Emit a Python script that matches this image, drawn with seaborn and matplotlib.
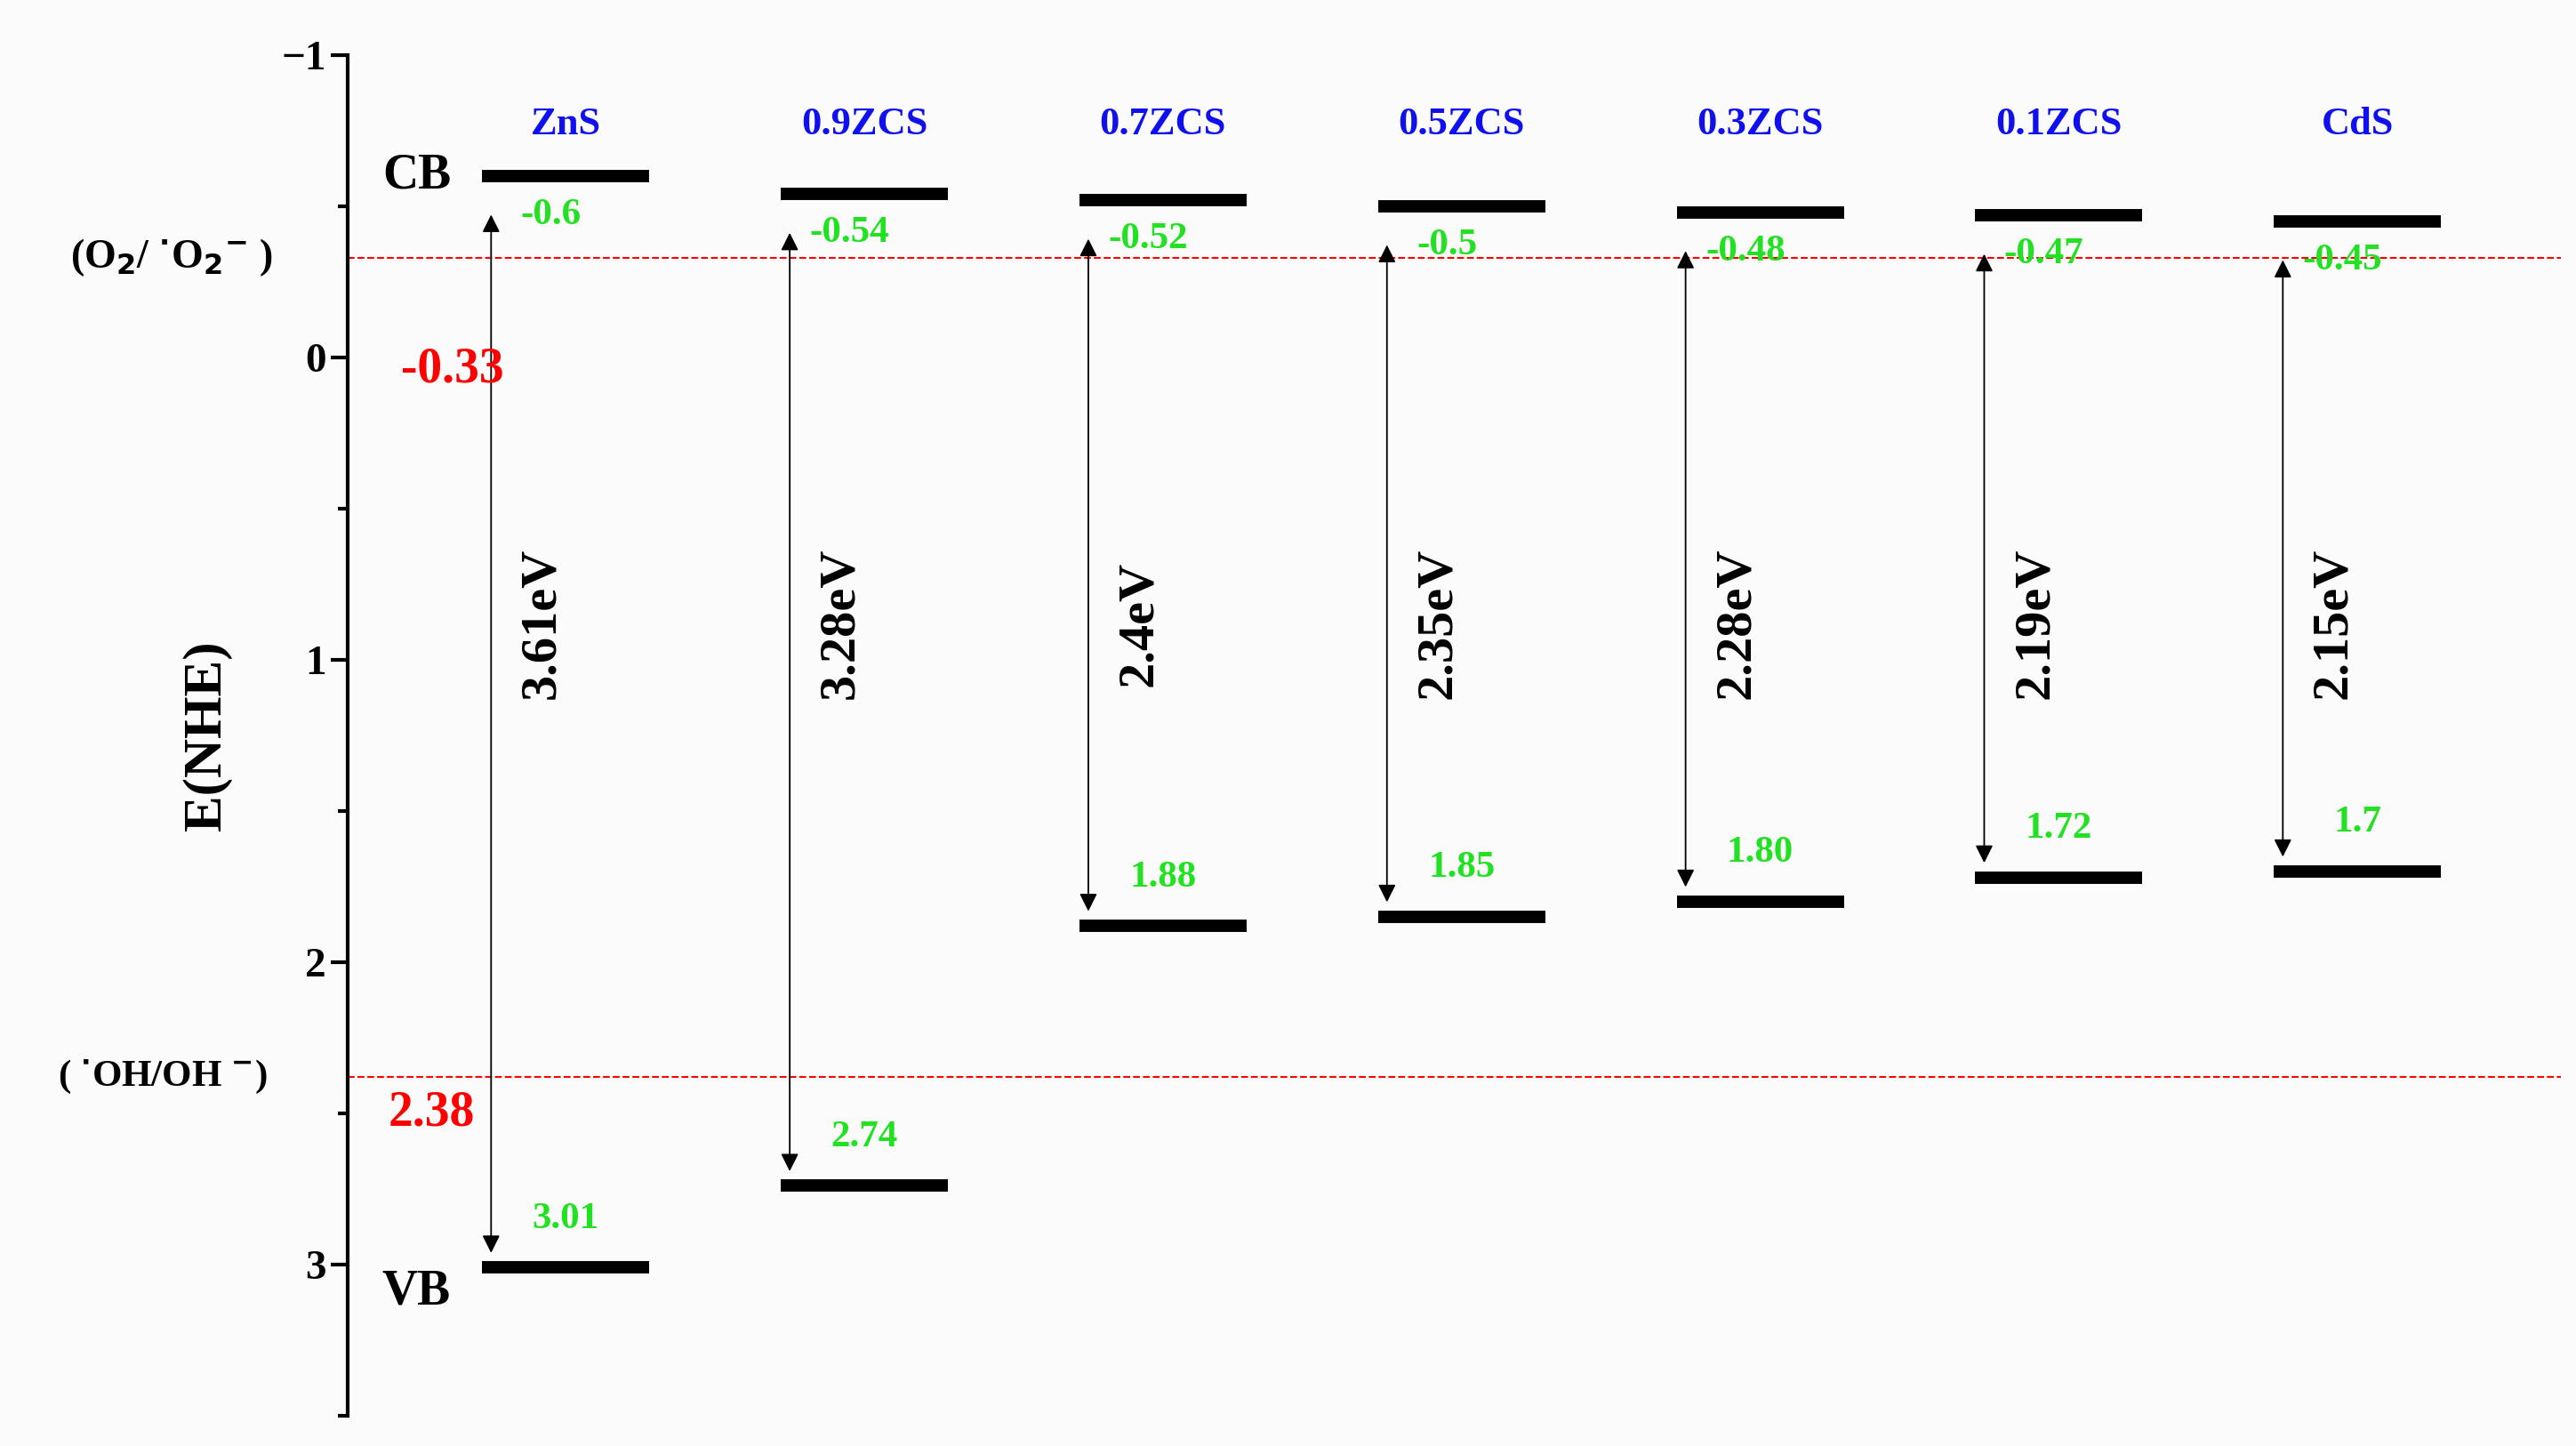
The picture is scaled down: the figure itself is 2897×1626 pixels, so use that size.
import numpy as np
import matplotlib.pyplot as plt
import seaborn as sns

# band positions vs NHE
samples = ['ZnS', '0.9ZCS', '0.7ZCS', '0.5ZCS', '0.3ZCS', '0.1ZCS', 'CdS']
cb = [-0.6, -0.54, -0.52, -0.5, -0.48, -0.47, -0.45]
vb = [3.01, 2.74, 1.88, 1.85, 1.80, 1.72, 1.7]
gap_labels = ['3.61eV', '3.28eV', '2.4eV', '2.35eV', '2.28eV', '2.19eV', '2.15eV']
cb_labels = ['-0.6', '-0.54', '-0.52', '-0.5', '-0.48', '-0.47', '-0.45']
vb_labels = ['3.01', '2.74', '1.88', '1.85', '1.80', '1.72', '1.7']
o2_level = -0.33
oh_level = 2.38

sns.set_style('ticks')
plt.rcParams['font.family'] = ['Liberation Serif', 'DejaVu Serif']
plt.rcParams['font.weight'] = 'bold'
plt.rcParams['text.color'] = 'black'
plt.rcParams['axes.labelcolor'] = 'black'
plt.rcParams['ytick.color'] = 'black'
plt.rcParams['axes.edgecolor'] = 'black'

fig = plt.figure(figsize=(28.97, 16.26), dpi=100)
fig.patch.set_facecolor('#fbfbfb')
ax = fig.add_axes([0.135, 0.021, 0.859, 0.941])
ax.set_facecolor('#fbfbfb')

x = np.arange(len(samples))
hw = 0.28
ax.hlines(cb, x - hw, x + hw, color='black', lw=10)
ax.hlines(vb, x - hw, x + hw, color='black', lw=10)

for i in x:
    ax.annotate('', xy=(i - 0.25, vb[i] - 0.04), xytext=(i - 0.25, cb[i] + 0.12),
                arrowprops=dict(arrowstyle='<|-|>', color='black', lw=1.3,
                                mutation_scale=30))
    ax.text(i - 0.08, 0.88, gap_labels[i], rotation=90, ha='center', va='center',
            fontsize=42, fontweight='bold')
    ax.text(i - 0.05, cb[i] + 0.13, cb_labels[i], color='#22e022', ha='center',
            va='center', fontsize=31, fontweight='bold')
    ax.text(i, vb[i] - 0.16, vb_labels[i], color='#22e022', ha='center',
            va='center', fontsize=31, fontweight='bold')
    ax.text(i, -0.77, samples[i], color='#1010ee', ha='center', va='center',
            fontsize=32, fontweight='bold')

ax.axhline(o2_level, color='red', ls='--', lw=1.5)
ax.axhline(oh_level, color='red', ls='--', lw=1.5)

ax.text(-0.5, -0.6, 'CB', ha='center', va='center', fontsize=40, fontweight='bold')
ax.text(-0.5, 3.09, 'VB', ha='center', va='center', fontsize=40, fontweight='bold')
ax.text(-0.38, 0.04, '-0.33', color='red', ha='center', va='center',
        fontsize=40, fontweight='bold')
ax.text(-0.45, 2.5, '2.38', color='red', ha='center', va='center',
        fontsize=40, fontweight='bold')
ax.text(-1.32, o2_level, r'(O$_2$/ $^{\bullet}$O$_2$$^{-}$ )', ha='center',
        va='center', fontsize=33, fontweight='bold')
ax.text(-1.35, oh_level, r'( $^{\bullet}$OH/OH $^{-}$)', ha='center',
        va='center', fontsize=31, fontweight='bold')

ax.set_xlim(-0.73, 6.68)
ax.set_ylim(3.5, -1)
ax.set_yticks([-1, 0, 1, 2, 3])
ax.set_yticks(np.arange(-0.5, 3.6, 1), minor=True)
ax.tick_params(axis='y', which='major', length=14, width=3, labelsize=34, direction='out')
ax.tick_params(axis='y', which='minor', length=8, width=3, direction='out')
ax.set_xticks([])
for s in ['top', 'right', 'bottom']:
    ax.spines[s].set_visible(False)
ax.spines['left'].set_linewidth(3)
ax.set_ylabel('E(NHE)', fontsize=44, fontweight='bold', labelpad=40)

fig.savefig('out.png', dpi=100, facecolor=fig.get_facecolor())
